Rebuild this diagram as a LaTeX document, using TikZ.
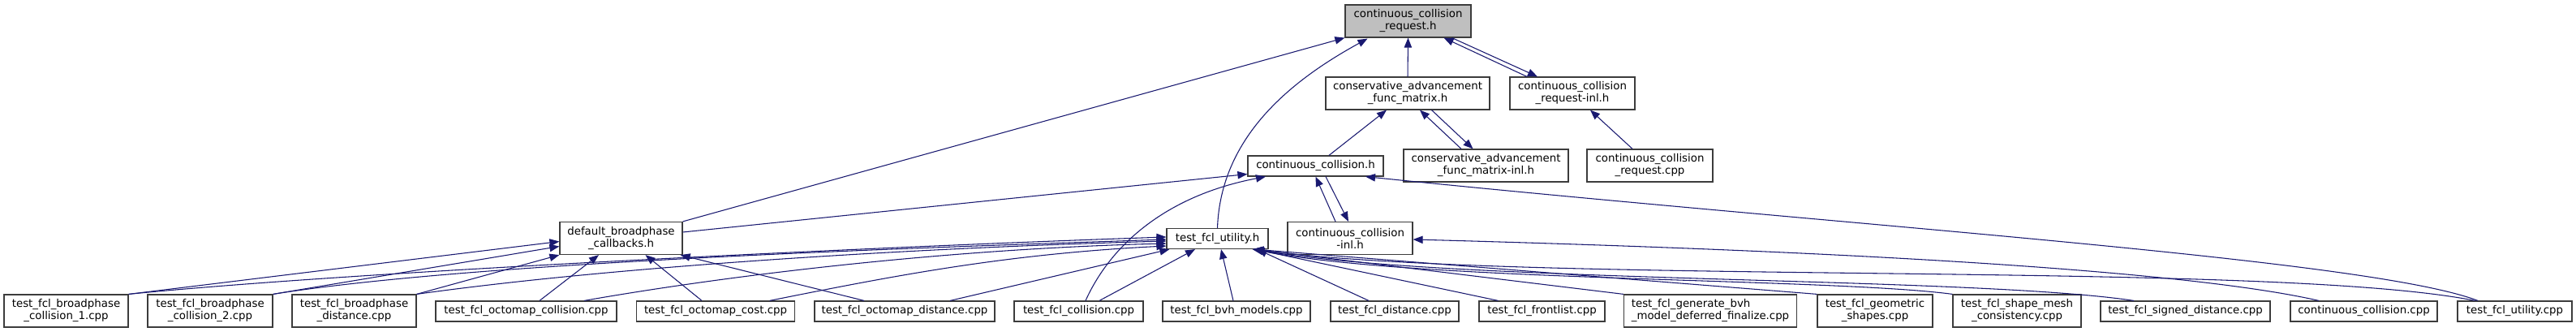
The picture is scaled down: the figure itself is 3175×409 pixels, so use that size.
\documentclass[tikz,border=0pt]{standalone}
\usepackage{fontspec}
\setmainfont{DejaVu Sans}
\usetikzlibrary{arrows.meta,calc}
\definecolor{edgeblue}{RGB}{25,25,112}
\definecolor{boxline}{RGB}{60,60,60}
\definecolor{hlfill}{RGB}{191,191,191}
\begin{document}
\begin{tikzpicture}[x=0.75pt,y=-0.75pt,
  box/.style={draw=boxline,line width=0.9pt,fill=white,inner sep=0pt,align=center,
    font=\fontsize{10pt}{11.25pt}\selectfont},
  one/.style={box,minimum height=18.75pt},
  two/.style={box,minimum height=30pt},
  dep/.style={draw=edgeblue,line width=0.8pt,-{Triangle[length=9pt,width=7pt]}}
]
\useasboundingbox (0,0) rectangle (3175,409);

% ---- nodes ----
\node[two,fill=hlfill,minimum width=116.25pt] (CCR) at (1735.5,26) {continuous\_collision\\\_request.h};
\node[two,minimum width=151.5pt] (CAFM) at (1735,115) {conservative\_advancement\\\_func\_matrix.h};
\node[two,minimum width=115.5pt] (CCRI) at (1938,115) {continuous\_collision\\\_request-inl.h};
\node[one,minimum width=125.25pt] (CC) at (1621.5,204.5) {continuous\_collision.h};
\node[two,minimum width=152.25pt] (CAFMI) at (1831.5,204) {conservative\_advancement\\\_func\_matrix-inl.h};
\node[two,minimum width=116.25pt] (CCRcpp) at (2033.5,204) {continuous\_collision\\\_request.cpp};
\node[two,minimum width=113.25pt] (DBC) at (765.5,293.5) {default\_broadphase\\\_callbacks.h};
\node[one,minimum width=93.75pt] (TFU) at (1500.5,294) {test\_fcl\_utility.h};
\node[two,minimum width=115.5pt] (CCI) at (1664,293.5) {continuous\_collision\\-inl.h};

\node[two,minimum width=114.75pt] (B1) at (81.5,383) {test\_fcl\_broadphase\\\_collision\_1.cpp};
\node[two,minimum width=115.5pt] (B2) at (259,383) {test\_fcl\_broadphase\\\_collision\_2.cpp};
\node[two,minimum width=114.75pt] (B3) at (436.5,383) {test\_fcl\_broadphase\\\_distance.cpp};
\node[one,minimum width=167.25pt] (OC) at (648.5,383.5) {test\_fcl\_octomap\_collision.cpp};
\node[one,minimum width=146.25pt] (OCost) at (882,383.5) {test\_fcl\_octomap\_cost.cpp};
\node[one,minimum width=166.5pt] (OD) at (1115,383.5) {test\_fcl\_octomap\_distance.cpp};
\node[one,minimum width=119.25pt] (TC) at (1329.5,383.5) {test\_fcl\_collision.cpp};
\node[one,minimum width=136.5pt] (BVH) at (1524,383.5) {test\_fcl\_bvh\_models.cpp};
\node[one,minimum width=118.5pt] (DIST) at (1719,383.5) {test\_fcl\_distance.cpp};
\node[one,minimum width=116.25pt] (FL) at (1900.5,383.5) {test\_fcl\_frontlist.cpp};
\node[two,align=left,minimum width=159.75pt] (GEN) at (2108,383) {test\_fcl\_generate\_bvh\\\_model\_deferred\_finalize.cpp};
\node[two,minimum width=106.5pt] (GEO) at (2311,383) {test\_fcl\_geometric\\\_shapes.cpp};
\node[two,minimum width=118.5pt] (SMC) at (2486,383) {test\_fcl\_shape\_mesh\\\_consistency.cpp};
\node[one,minimum width=156.75pt] (SD) at (2693.5,383.5) {test\_fcl\_signed\_distance.cpp};
\node[one,minimum width=135.75pt] (CCcpp) at (2913.5,383.5) {continuous\_collision.cpp};
\node[one,minimum width=105.75pt] (TUcpp) at (3099.5,383.5) {test\_fcl\_utility.cpp};

% ---- edges into continuous_collision_request.h ----
\draw[dep] (DBC.north east) -- (CCR.south west);
\draw[dep] (TFU.north) .. controls +(4,-112) and +(-95,52) .. ($(CCR.south)+(-50,1)$);
\draw[dep] (CAFM.north) -- (CCR.south);
\draw[dep] ($(CCRI.north)+(-56,0)$) -- ($(CCR.south)+(44,0)$);
\draw[dep] ($(CCR.south)+(54,0)$) -- ($(CCRI.north)+(-43,0)$);

% ---- second level ----
\draw[dep] ($(CAFMI.north)+(-30.5,0)$) -- ($(CAFM.south)+(15,0)$);
\draw[dep] ($(CAFM.south)+(29.5,0)$) -- ($(CAFMI.north)+(-16,0)$);
\draw[dep] ($(CCRcpp.north)+(-21.5,0)$) -- ($(CCRI.south)+(22,0)$);
\draw[dep] ($(CC.north)+(16.5,0)$) -- ($(CAFM.south)+(-26,0)$);

% ---- into continuous_collision.h ----
\draw[dep] ($(DBC.east)+(0,-7.5)$) -- ($(CC.west)+(0,10)$);
\draw[dep] ($(TC.north)+(8.5,0)$) .. controls +(32,-71) and +(-120,23) .. ($(CC.south)+(-61.5,0)$);
\draw[dep] ($(CCI.north)+(-18,0)$) -- (CC.south);
\draw[dep] ($(CC.south)+(12.5,0)$) -- ($(CCI.north)+(-2,0)$);
\draw[dep] ($(TUcpp.north)+(-45.5,0)$) .. controls +(-134,-51) and +(617,63) .. ($(CC.south)+(61.5,0)$);

% ---- into continuous_collision-inl.h ----
\draw[dep] ($(CCcpp.north)+(-55.5,0)$) .. controls +(-158,-36) and +(558,15) .. ($(CCI.east)+(0,1.5)$);

% ---- into default_broadphase_callbacks.h ----
\draw[dep] (B1.north east) -- ($(DBC.west)+(0,4)$);
\draw[dep] (B2.north east) -- ($(DBC.west)+(0,10)$);
\draw[dep] (B3.north east) -- (DBC.south west);
\draw[dep] ($(OC.north)+(16.5,0)$) -- ($(DBC.south)+(-27.5,0)$);
\draw[dep] ($(OCost.north)+(-17,0)$) -- ($(DBC.south)+(30,0)$);
\draw[dep] ($(OD.north)+(-50,0)$) -- ($(DBC.south east)+(-3,0)$);

% ---- into test_fcl_utility.h ----
\draw[dep] (B1.north east) .. controls +(300,-30) and +(-300,10) .. ($(TFU.west)+(0,-2)$);
\draw[dep] (B2.north east) .. controls +(250,-40) and +(-300,10) .. ($(TFU.west)+(0,1)$);
\draw[dep] (B3.north east) .. controls +(250,-35) and +(-300,8) .. ($(TFU.west)+(0,3)$);
\draw[dep] ($(OC.north)+(71.5,0)$) .. controls +(200,-35) and +(-250,6) .. ($(TFU.west)+(0,6)$);
\draw[dep] ($(OCost.north)+(66.6,0)$) .. controls +(150,-30) and +(-200,10) .. ($(TFU.west)+(0,9)$);
\draw[dep] ($(OD.north)+(56,0)$) -- ($(TFU.south west)+(4,0)$);
\draw[dep] ($(TC.north)+(25.5,0)$) -- ($(TFU.south)+(-27.5,0)$);
\draw[dep] ($(BVH.north)+(-4,0)$) -- ($(TFU.south)+(4.5,0)$);
\draw[dep] ($(DIST.north)+(-32,0)$) -- ($(TFU.south)+(49,0)$);
\draw[dep] ($(FL.north)+(-54,0)$) -- ($(TFU.south)+(46,0)$);
\draw[dep] (GEN.north west) -- ($(TFU.south)+(45,0)$);
\draw[dep] (GEO.north west) -- ($(TFU.south)+(45,0)$);
\draw[dep] (SMC.north west) .. controls +(-150,-20) and +(200,40) .. ($(TFU.south)+(44,0)$);
\draw[dep] ($(SD.north)+(-63.5,0)$) .. controls +(-200,-30) and +(250,42) .. ($(TFU.south)+(44,0)$);
\draw[dep] ($(TUcpp.north)+(-49,0)$) .. controls +(-250,-50) and +(350,45) .. ($(TFU.south)+(43,0)$);
\end{tikzpicture}
\end{document}
